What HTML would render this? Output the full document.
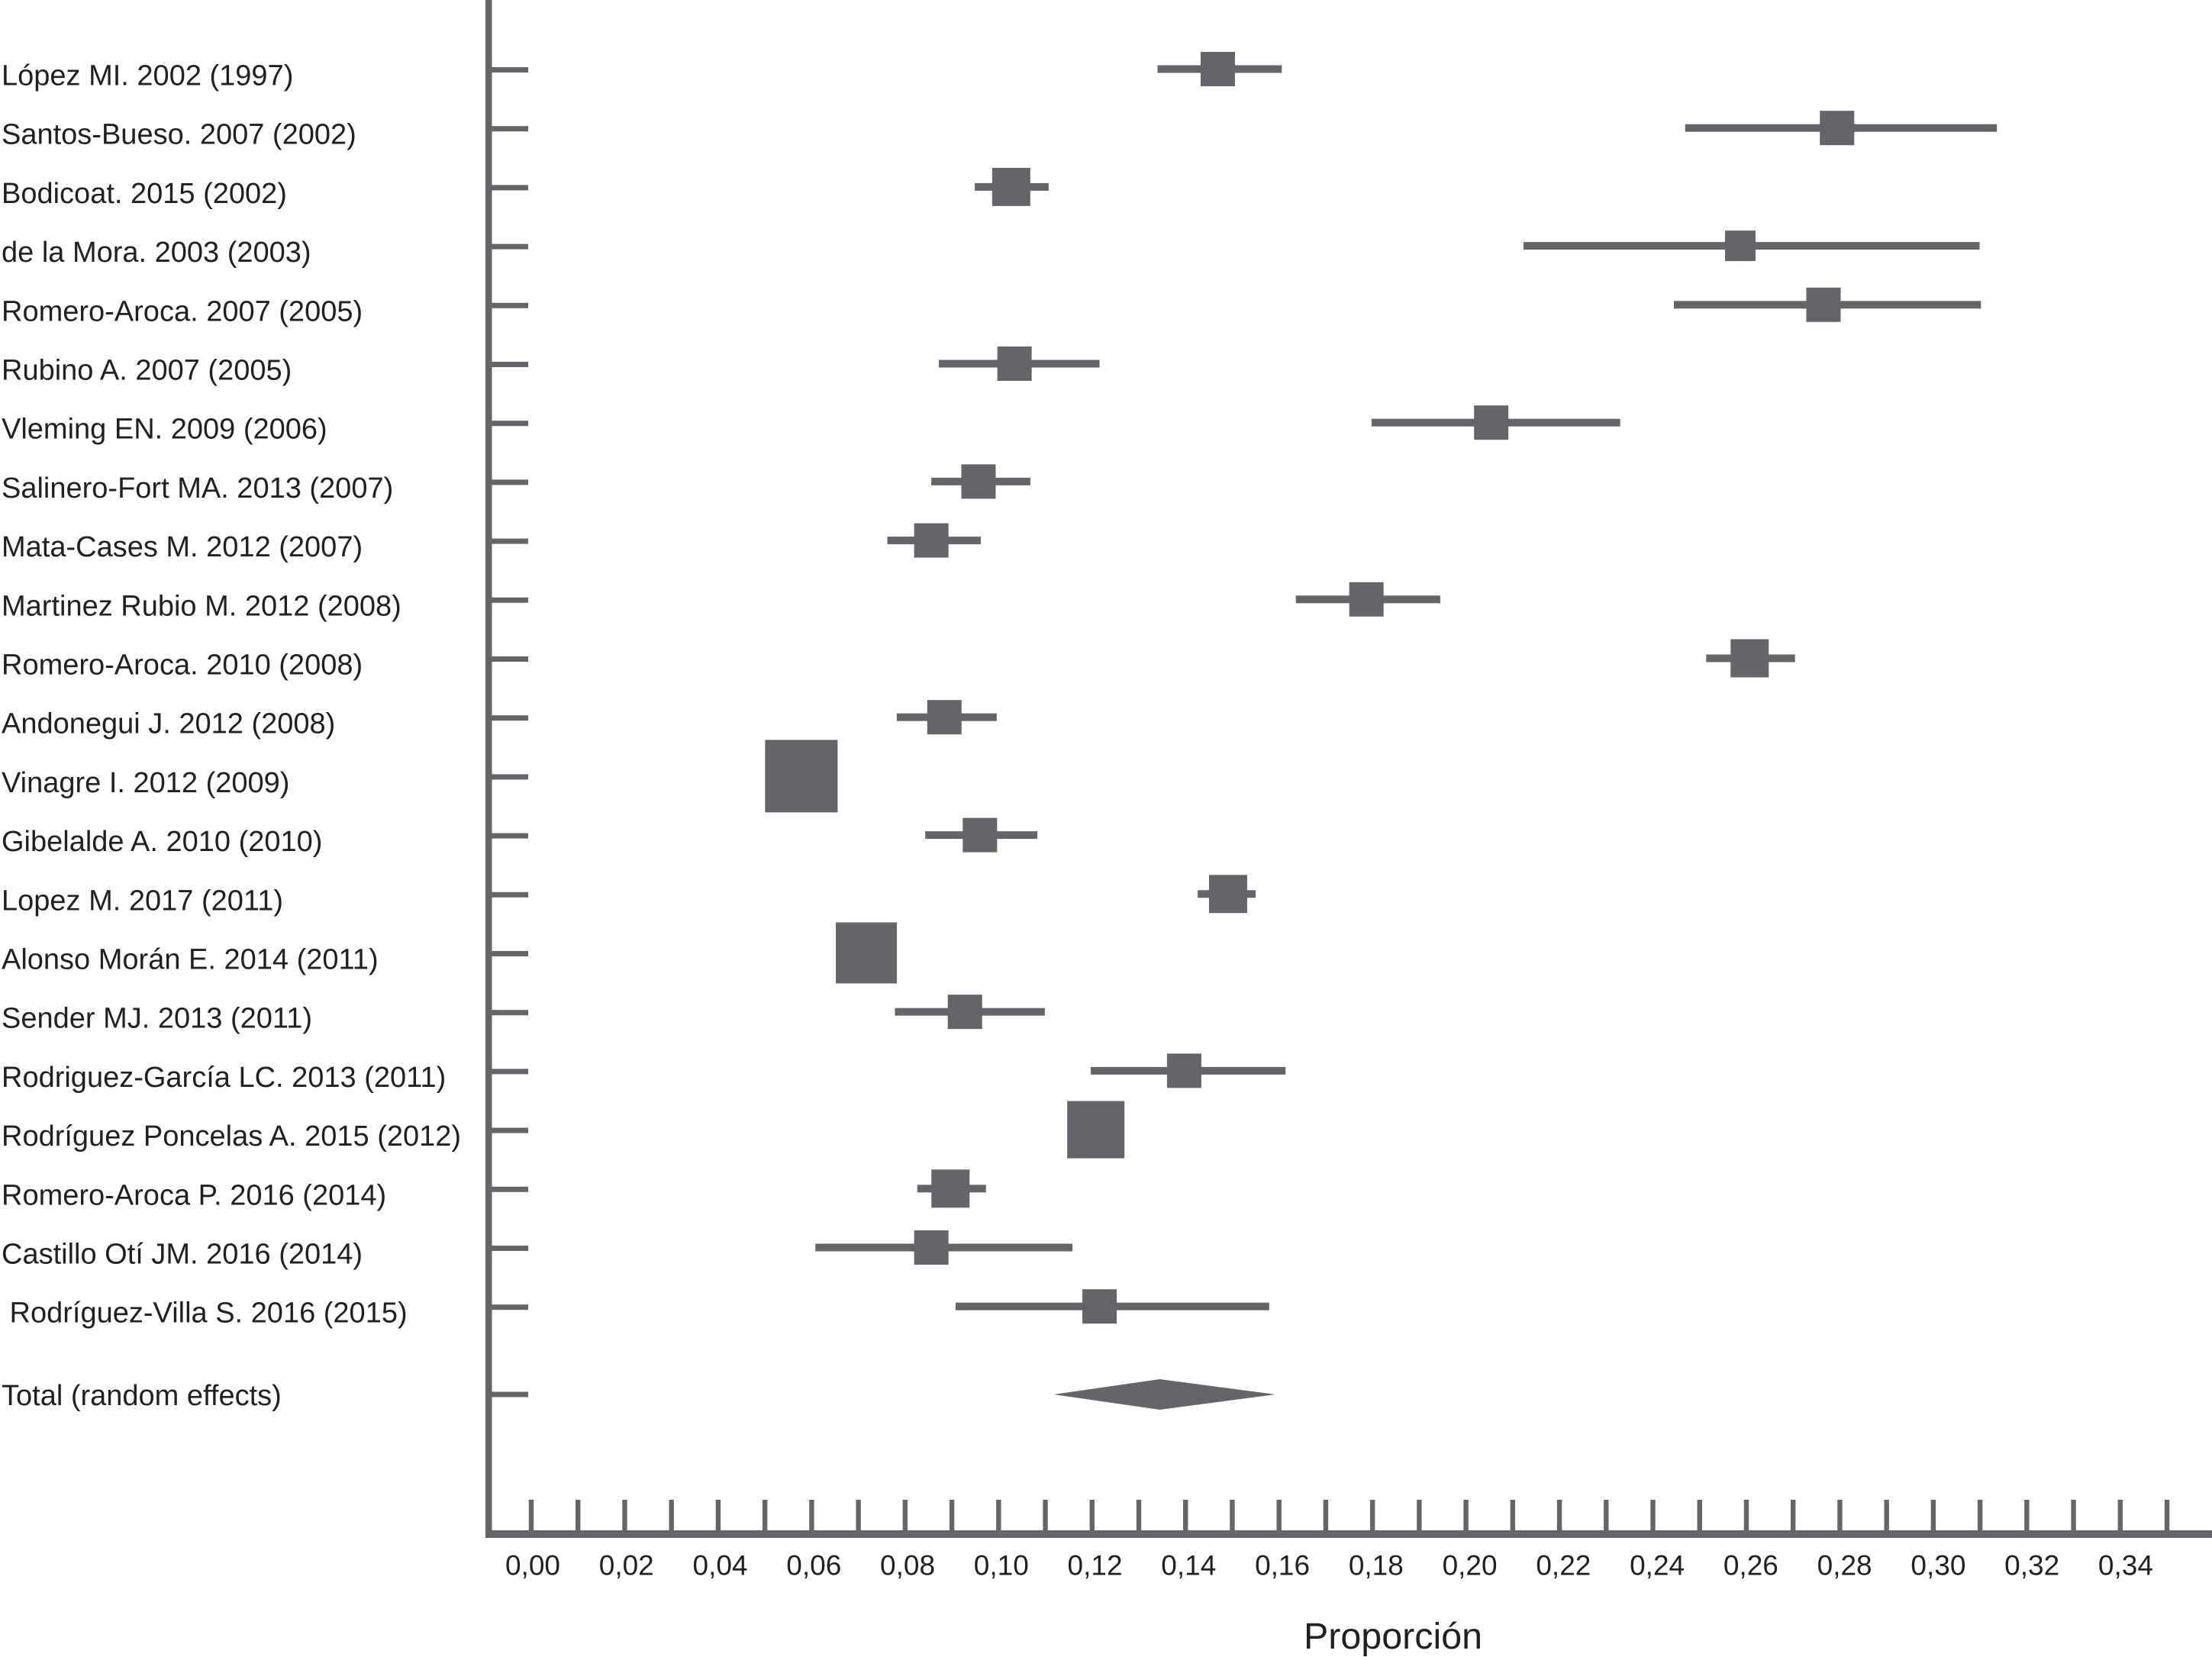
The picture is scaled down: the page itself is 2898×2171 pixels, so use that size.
<!DOCTYPE html>
<html lang="es">
<head>
<meta charset="utf-8">
<title>Forest plot</title>
<style>
html,body{margin:0;padding:0;background:#fff;}
svg{display:block;}
text{font-family:"Liberation Sans",Arial,sans-serif;fill:#231f20;}
</style>
</head>
<body>
<svg id="chart" xmlns="http://www.w3.org/2000/svg" width="2898" height="2171" viewBox="0 0 2898 2171"></svg>
<script>
const studies = ["López MI. 2002 (1997)","Santos-Bueso. 2007 (2002)","Bodicoat. 2015 (2002)","de la Mora. 2003 (2003)","Romero-Aroca. 2007 (2005)","Rubino A. 2007 (2005)","Vleming EN. 2009 (2006)","Salinero-Fort MA. 2013 (2007)","Mata-Cases M. 2012 (2007)","Martinez Rubio M. 2012 (2008)","Romero-Aroca. 2010 (2008)","Andonegui J. 2012 (2008)","Vinagre I. 2012 (2009)","Gibelalde A. 2010 (2010)","Lopez M. 2017 (2011)","Alonso Morán E. 2014 (2011)","Sender MJ. 2013 (2011)","Rodriguez-García LC. 2013 (2011)","Rodríguez Poncelas A. 2015 (2012)","Romero-Aroca P. 2016 (2014)","Castillo Otí JM. 2016 (2014)","\u00A0Rodríguez-Villa S. 2016 (2015)"];
const proportion = [0.1469,0.2794,0.1027,0.2587,0.2765,0.1034,0.2054,0.0957,0.0856,0.1787,0.2607,0.0884,0.0578,0.0960,0.1491,0.0717,0.0928,0.1397,0.1208,0.0897,0.0856,0.1216];
const ciLower = [0.1340,0.2469,0.0949,0.2123,0.2445,0.0872,0.1798,0.0856,0.0762,0.1636,0.2514,0.0782,0.0550,0.0843,0.1426,0.0690,0.0778,0.1197,0.1180,0.0826,0.0608,0.0908];
const ciUpper = [0.1606,0.3136,0.1107,0.3099,0.3102,0.1216,0.2330,0.1068,0.0962,0.1945,0.2704,0.0996,0.0610,0.1083,0.1550,0.0745,0.1099,0.1614,0.1235,0.0973,0.1158,0.1579];
const studyWeight = [4.5,4.5,5.0,4.0,4.5,4.5,4.5,4.5,4.5,4.5,5.0,4.5,9.5,4.5,5.0,8.0,4.5,4.5,7.5,5.0,4.5,4.5];
const totalLabel = "Total (random effects)";
const totalEffect = [0.1118,0.1345,0.1592];
const tickLabels = ["0,00","0,02","0,04","0,06","0,08","0,10","0,12","0,14","0,16","0,18","0,20","0,22","0,24","0,26","0,28","0,30","0,32","0,34"];
const axisTitle = "Proporción";

const svg = document.getElementById('chart');
const NS = 'http://www.w3.org/2000/svg';
const GREY = '#636569';
function xScale(v){ return 696 + 6123 * v; }
function xLabelScale(v){ return 698 + 6138 * v; }
function yScale(i){ return 90.5 + 77.2 * i; }
function mk(tag, attrs, txt){
  const el = document.createElementNS(NS, tag);
  for (const k in attrs) el.setAttribute(k, attrs[k]);
  if (txt !== undefined) el.textContent = txt;
  svg.appendChild(el);
  return el;
}
let el;

// axes
el = mk('rect',{x:636,y:0,width:8.5,height:2015,fill:GREY});


el = mk('rect',{x:636,y:2005,width:2262,height:10,fill:GREY});



// x ticks
for (let t = 0; t <= 35; t++) {
  el = mk('rect',{x:xScale(t/100)-3.2,y:1965,width:6.4,height:42,fill:GREY});
  
  
}
tickLabels.forEach(function(lab, i){
  el = mk('text',{x:xLabelScale(parseFloat(lab.replace(',','.'))),y:2063.5,'font-size':37,'text-anchor':'middle'},lab);
  
  
});
el = mk('text',{x:1708,y:2160,'font-size':48.4},axisTitle);



// study rows
studies.forEach(function(name, i){
  const y = yScale(i);
  el = mk('rect',{x:644,y:y+1-3.5,width:48,height:7,fill:GREY});
  
  
  el = mk('text',{x:2,y:y+21,'font-size':38},name);
  
  
  el = mk('rect',{x:xScale(ciLower[i]),y:y-5,width:xScale(ciUpper[i])-xScale(ciLower[i]),height:10,fill:GREY});
  
  
  const s = studyWeight[i] * 10;
  el = mk('rect',{x:xScale(proportion[i])-s/2,y:y-s/2,width:s,height:s,fill:GREY});
  
  
});

// total row
const yTotal = 1827;
el = mk('rect',{x:644,y:yTotal-3.5,width:48,height:7,fill:GREY});


el = mk('text',{x:2,y:1841,'font-size':38},totalLabel);


el = mk('polygon',{points:[xScale(totalEffect[0])+','+yTotal,xScale(totalEffect[1])+','+(yTotal-20),xScale(totalEffect[2])+','+yTotal,xScale(totalEffect[1])+','+(yTotal+20)].join(' '),fill:GREY});


</script>
</body>
</html>
